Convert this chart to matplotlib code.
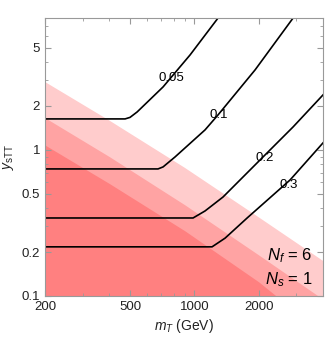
import matplotlib
matplotlib.use("Agg")
import matplotlib.pyplot as plt
from matplotlib.ticker import FixedLocator, NullFormatter

plt.rcParams["font.family"] = ["Liberation Sans", "DejaVu Sans"]
plt.rcParams["mathtext.fontset"] = "custom"
plt.rcParams["mathtext.rm"] = "Liberation Sans"
plt.rcParams["mathtext.it"] = "Liberation Sans:italic"

# excluded regions (upper boundary of each band), m_T in GeV
band_x = [200, 400, 904, 2000, 4000]
band_light = [2.92, 1.59, 0.753, 0.346, 0.174]
band_mid = [1.66, 0.90, 0.42, 0.191, 0.095]
band_dark = [1.08, 0.589, 0.279, 0.125, 0.055]

# contour lines
c005_x = [200, 474, 500, 540, 714, 955, 1291]
c005_y = [1.63, 1.63, 1.67, 1.82, 2.70, 4.47, 8.0]
c01_x = [200, 676, 714, 812, 1122, 1291, 1924, 2898]
c01_y = [0.741, 0.741, 0.765, 0.895, 1.371, 1.737, 3.53, 8.0]
c02_x = [200, 986, 1122, 1362, 2030, 2898, 4000]
c02_y = [0.342, 0.342, 0.382, 0.476, 0.854, 1.437, 2.38]
c03_x = [200, 1210, 1393, 1766, 2806, 4000]
c03_y = [0.217, 0.217, 0.249, 0.342, 0.623, 1.117]

labels = ["0.05", "0.1", "0.2", "0.3"]
label_x = [778, 1305, 2142, 2776]
label_y = [3.11, 1.737, 0.882, 0.576]

fig = plt.figure(figsize=(3.27, 3.37), dpi=100)
ax = fig.add_axes([0.1376, 0.1217, 0.8502, 0.8249])
ax.set_xscale("log")
ax.set_yscale("log")

ax.fill_between(band_x, 0.01, band_light, color="#ffcccc", lw=0)
ax.fill_between(band_x, 0.01, band_mid, color="#ffa3a3", lw=0)
ax.fill_between(band_x, 0.01, band_dark, color="#ff8080", lw=0)

for xs, ys in [(c005_x, c005_y), (c01_x, c01_y), (c02_x, c02_y), (c03_x, c03_y)]:
    ax.plot(xs, ys, color="black", lw=1.2)

for t, x, y in zip(labels, label_x, label_y):
    ax.text(x, y, t, fontsize=9.5, ha="center", va="center")

ax.text(3560, 0.19, "$N_f$ = 6", fontsize=12, ha="right", va="center")
ax.text(3560, 0.129, "$N_s$ = 1", fontsize=12, ha="right", va="center")

ax.set_xlim(200, 4000)
ax.set_ylim(0.1, 8)

ax.xaxis.set_major_locator(FixedLocator([200, 500, 1000, 2000]))
ax.xaxis.set_minor_locator(FixedLocator([300, 400, 600, 700, 800, 900, 3000, 4000]))
ax.set_xticklabels(["200", "500", "1000", "2000"])
ax.xaxis.set_minor_formatter(NullFormatter())
ax.yaxis.set_major_locator(FixedLocator([0.1, 0.2, 0.5, 1, 2, 5]))
ax.yaxis.set_minor_locator(FixedLocator([0.3, 0.4, 0.6, 0.7, 0.8, 0.9, 3, 4, 6, 7, 8]))
ax.set_yticklabels(["0.1", "0.2", "0.5", "1", "2", "5"])
ax.yaxis.set_minor_formatter(NullFormatter())

ax.tick_params(which="both", direction="in", top=True, right=True,
               color="#999999", labelcolor="#222222", labelsize=9.5)
ax.tick_params(which="major", length=4, width=0.8)
ax.tick_params(which="minor", length=2, width=0.6)
for s in ax.spines.values():
    s.set_color("#999999")
    s.set_linewidth(0.8)

ax.set_xlabel("$m_T$ (GeV)", fontsize=10, color="#222222", labelpad=3)
ax.set_ylabel(r"$y_{\mathrm{sTT}}$", fontsize=10, color="#222222", labelpad=4)

fig.savefig("out.png", dpi=100)
